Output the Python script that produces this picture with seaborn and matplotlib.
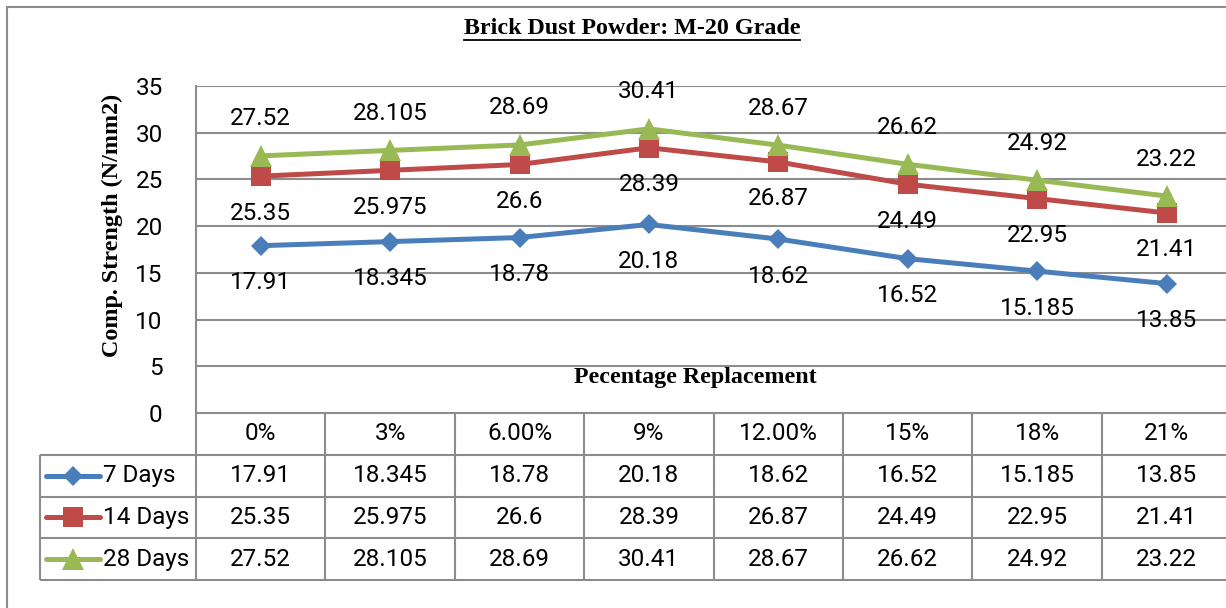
import matplotlib
matplotlib.use("Agg")
import pandas as pd
import seaborn as sns
import matplotlib.pyplot as plt
from matplotlib.lines import Line2D
from matplotlib.patches import Rectangle
from matplotlib.transforms import IdentityTransform

# data
replacement = ['0%', '3%', '6.00%', '9%', '12.00%', '15%', '18%', '21%']
days7 = [17.91, 18.345, 18.78, 20.18, 18.62, 16.52, 15.185, 13.85]
days14 = [25.35, 25.975, 26.6, 28.39, 26.87, 24.49, 22.95, 21.41]
days28 = [27.52, 28.105, 28.69, 30.41, 28.67, 26.62, 24.92, 23.22]
labels = ['7 Days', '14 Days', '28 Days']
series = [days7, days14, days28]

colors = ['#4A7EBB', '#BE4B48', '#98B954']
markers = ['D', 's', '^']
msizes = [10.5, 14, 15.5]
label_off = [-37, -37, 37]   # pixels: 7/14 days below, 28 days above

rows = []
for name, vals in zip(labels, series):
    for r, v in zip(replacement, vals):
        rows.append({'Replacement': r, 'Strength': v, 'Age': name})
df = pd.DataFrame(rows)

W, H = 1226, 608
fig = plt.figure(figsize=(W / 100, H / 100), dpi=100)
num_font = ['Roboto', 'DejaVu Sans']
serif = 'Liberation Serif'
grid_c = '#8C8C8C'
colw = 129.4

def px(x0, y0, x1, y1):
    return [x0 / W, 1 - y1 / H, (x1 - x0) / W, (y1 - y0) / H]

ax = fig.add_axes(px(196, 86, 196 + 8 * colw, 413))
sns.lineplot(data=df, x='Replacement', y='Strength', hue='Age', style='Age',
             hue_order=labels, style_order=labels, palette=colors,
             markers=dict(zip(labels, markers)), dashes=False, sort=False,
             lw=3.6, markeredgewidth=0, legend=False, ax=ax)
for ln, ms in zip(ax.lines, msizes):
    ln.set_markersize(ms)

ax.set_xlim(-0.5, 7.5)
ax.set_ylim(0, 35)
ax.set_yticks(range(0, 36, 5))
ax.set_xticks([])
ax.set_xlabel('')
ax.set_ylabel('')
ax.grid(False)
for y in range(5, 36, 5):
    ax.axhline(y, color=grid_c, lw=1.5, zorder=0)
for s in ['top', 'right', 'bottom']:
    ax.spines[s].set_visible(False)
ax.spines['left'].set_color(grid_c)
ax.spines['left'].set_linewidth(1.5)
ax.tick_params(axis='y', length=0, pad=24, labelsize=17.5)
for t in ax.get_yticklabels():
    t.set_family(num_font)

for vals, off in zip(series, label_off):
    for i, v in enumerate(vals):
        ax.annotate(f'{v:g}', (i, v), xytext=(0, off), textcoords='offset pixels',
                    ha='center', va='center', fontsize=17.5, family=num_font)

ax.text(0.482, 0.108, 'Pecentage Replacement', transform=ax.transAxes,
        ha='center', va='center', fontsize=17.3, fontweight='bold', family=serif)

# data table under the plot
tax = fig.add_axes(px(40, 413, 196 + 8 * colw, 580))
x_left = -0.5 - (196 - 40) / colw
tax.set_xlim(x_left, 7.5)
tax.set_ylim(4, 0)
tax.axis('off')

def dx(p):
    return -0.5 + (p - 196) / colw

tax.hlines(0, -0.5, 7.5, color=grid_c, lw=1.5, clip_on=False)
tax.hlines([1, 2, 3, 4], x_left, 7.5, color=grid_c, lw=1.5, clip_on=False)
tax.vlines([k - 0.5 for k in range(9)], 0, 4, color=grid_c, lw=1.5, clip_on=False)
tax.vlines(x_left, 1, 4, color=grid_c, lw=1.5, clip_on=False)

for i, r in enumerate(replacement):
    tax.text(i, 0.5, r, ha='center', va='center', fontsize=17.5, family=num_font)
for k, (name, vals) in enumerate(zip(labels, series)):
    yr = k + 1.5
    for i, v in enumerate(vals):
        tax.text(i, yr, f'{v:g}', ha='center', va='center', fontsize=17.5, family=num_font)
    tax.plot([dx(46), dx(100)], [yr, yr], color=colors[k], lw=3.6,
             solid_capstyle='round', clip_on=False)
    tax.plot([dx(73)], [yr], marker=markers[k], markersize=msizes[k],
             color=colors[k], markeredgewidth=0, clip_on=False)
    tax.text(dx(103), yr, name, ha='left', va='center', fontsize=17.5, family=num_font)

# y axis title and chart title
fig.text(112 / W, 1 - 225 / H, 'Comp. Strength (N/mm2)', rotation=90,
         ha='center', va='center', fontsize=17.4, fontweight='bold', family=serif)
title = fig.text(632 / W, 1 - 29 / H, 'Brick Dust Powder: M-20 Grade',
                 ha='center', va='center', fontsize=17.3, fontweight='bold', family=serif)

# outer chart border (cropped at right and bottom)
fig.add_artist(Rectangle((7 / W, -0.05), 1.2, 1 - 7 / H + 0.05, transform=fig.transFigure,
                         fill=False, edgecolor=grid_c, lw=1.5))

fig.canvas.draw()
bb = title.get_window_extent()
fig.add_artist(Line2D([bb.x0, bb.x1], [H - 40, H - 40], transform=IdentityTransform(),
                      color='black', lw=1.3))

fig.savefig('out.png', dpi=100)
